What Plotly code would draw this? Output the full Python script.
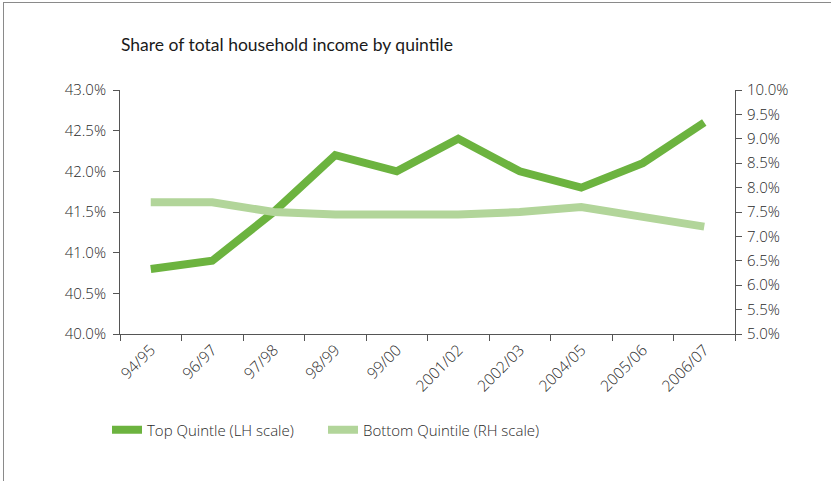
import plotly.graph_objects as go

# Share of total household income by quintile (%)
years = ["94/95", "96/97", "97/98", "98/99", "99/00",
         "2001/02", "2002/03", "2004/05", "2005/06", "2006/07"]
top_quintile = [40.8, 40.9, 41.5, 42.2, 42.0, 42.4, 42.0, 41.8, 42.1, 42.6]
bottom_quintile = [7.7, 7.7, 7.5, 7.45, 7.45, 7.45, 7.5, 7.6, 7.4, 7.2]

FONT = "Lato"
LABEL_FONT = "Open Sans"
TEXT = "#2a2a2a"
AXIS = "#555555"

fig = go.Figure()
fig.add_trace(go.Scatter(
    x=years, y=top_quintile, mode="lines",
    name="Top Quintle (LH scale)",
    line=dict(color="#6cb33f", width=8),
    yaxis="y",
))
fig.add_trace(go.Scatter(
    x=years, y=bottom_quintile, mode="lines",
    name="Bottom Quintile (RH scale)",
    line=dict(color="#b2d59a", width=8),
    yaxis="y2",
))

W, H = 831, 481
L, R, T, B = 120, 96, 90, 147
pw, ph = W - L - R, H - T - B


def px_x(p):
    return (p - L) / pw


def px_y(p):
    return (H - B - p) / ph


tick_font = dict(family=LABEL_FONT, size=15, color=TEXT, weight=300)

fig.update_layout(
    width=W, height=H,
    margin=dict(l=L, r=R, t=T, b=B),
    paper_bgcolor="white", plot_bgcolor="white",
    font=dict(family=FONT, color=TEXT),
    title=dict(
        text="Share of total household income by quintile",
        x=px_x(121), xref="paper", xanchor="left",
        y=1 - 45 / H, yref="container", yanchor="middle",
        font=dict(family=FONT, size=17.5, color="#1a1a1a"),
    ),
    xaxis=dict(
        type="category", showgrid=False, zeroline=False,
        showline=True, linecolor=AXIS, linewidth=1,
        ticks="outside", ticklen=6, tickcolor=AXIS,
        tickson="boundaries", tickangle=-45,
        tickfont=dict(family=LABEL_FONT, size=15.5, color=TEXT, weight=300),
        range=[-0.5, len(years) - 0.5],
    ),
    yaxis=dict(
        range=[40, 43], dtick=0.5, tickformat=".1f", ticksuffix="%",
        showgrid=False, zeroline=False,
        showline=True, linecolor=AXIS, linewidth=1,
        ticks="outside", ticklen=6, tickcolor=AXIS,
        ticklabelstandoff=4,
        tickfont=tick_font,
    ),
    yaxis2=dict(
        range=[5, 10], dtick=0.5, tickformat=".1f", ticksuffix="%",
        overlaying="y", side="right",
        showgrid=False, zeroline=False,
        showline=True, linecolor=AXIS, linewidth=1,
        ticks="outside", ticklen=6, tickcolor=AXIS,
        ticklabelstandoff=2,
        tickfont=tick_font,
    ),
    legend=dict(
        orientation="h",
        x=px_x(107), xanchor="left",
        y=px_y(430), yanchor="middle",
        font=dict(family=LABEL_FONT, size=15, color=TEXT, weight=300),
        itemwidth=30,
        entrywidth=171, entrywidthmode="pixels",
        bgcolor="rgba(0,0,0,0)",
    ),
    showlegend=True,
    shapes=[
        # frame: top and left edges
        dict(type="line", xref="paper", yref="paper",
             x0=px_x(3), x1=px_x(W + 5), y0=px_y(2.5), y1=px_y(2.5),
             line=dict(color="#8a8a8a", width=1)),
        dict(type="line", xref="paper", yref="paper",
             x0=px_x(3.5), x1=px_x(3.5), y0=px_y(2.5), y1=px_y(H + 5),
             line=dict(color="#8a8a8a", width=1)),
    ],
)

fig.write_html("out.html")
